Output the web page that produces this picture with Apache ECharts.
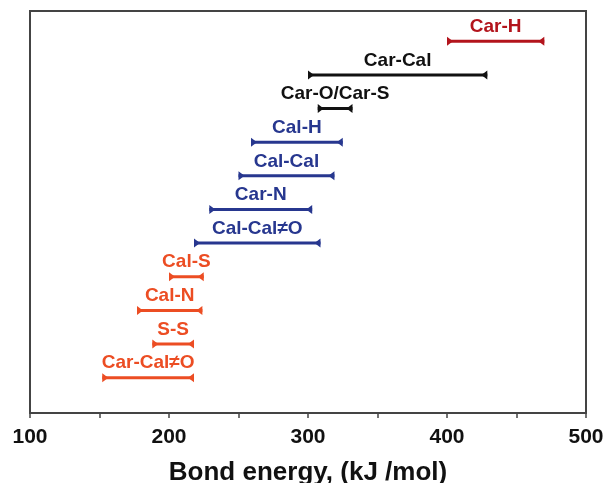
<!DOCTYPE html>
<html>
<head>
<meta charset="utf-8">
<script src="https://cdn.jsdelivr.net/npm/echarts@6/dist/echarts.min.js"></script>
<style>html,body{margin:0;padding:0;background:#fff}#c{width:608px;height:483px}</style>
</head>
<body>
<div id="c"></div>
<script>
const bonds = ['Car-H','Car-Cal','Car-O/Car-S','Cal-H','Cal-Cal','Car-N','Cal-Cal\u2260O','Cal-S','Cal-N','S-S','Car-Cal\u2260O'];
const lowEnergy  = [400, 300, 307, 259, 250, 229, 218, 200, 177, 188, 152];
const highEnergy = [470, 429, 332, 325, 319, 303, 309, 225, 224, 218, 218];
const family = ['aromatic-H','aromatic','aromatic','aliphatic','aliphatic','aliphatic','aliphatic','hetero','hetero','hetero','hetero'];
const xTicks = [100, 200, 300, 400, 500];

const familyColor = {'aromatic-H':'#b3141c','aromatic':'#111111','aliphatic':'#27378f','hetero':'#ec4d23'};

const data = bonds.map((b, i) => [lowEnergy[i], highEnergy[i], i, b, family[i]]);

const chart = echarts.init(document.getElementById('c'));
chart.setOption({
  animation: false,
  grid: {left: 30, right: 22, top: 11, bottom: 70, outerBoundsMode: 'none', containLabel: false,
         show: true, borderColor: '#444', borderWidth: 2, backgroundColor: 'transparent'},
  xAxis: {
    type: 'value', min: 100, max: 500, interval: 50,
    axisLine: {show: true, onZero: false, lineStyle: {color: '#444', width: 2}},
    axisTick: {show: true, length: 5, lineStyle: {color: '#444', width: 1.5}},
    splitLine: {show: false},
    axisLabel: {
      margin: 14, fontSize: 21, fontWeight: 'bold', color: '#111', fontFamily: 'Liberation Sans',
      formatter: v => xTicks.includes(v) ? String(v) : ''
    },
    name: 'Bond energy, (kJ /mol)', nameLocation: 'middle', nameGap: 47,
    nameTextStyle: {fontSize: 26, color: '#111', fontFamily: 'Liberation Sans', fontWeight: 'bold'}
  },
  yAxis: {
    type: 'value', inverse: true, min: -0.9, max: 11.05,
    axisLine: {show: true, onZero: false, lineStyle: {color: '#444', width: 2}},
    axisTick: {show: false}, axisLabel: {show: false}, splitLine: {show: false}
  },
  series: [{
    type: 'custom',
    data: data,
    encode: {x: [0, 1], y: 2},
    renderItem: function (params, api) {
      const lo = api.coord([api.value(0), api.value(2)]);
      const hi = api.coord([api.value(1), api.value(2)]);
      const idx = params.dataIndex;
      const color = familyColor[family[idx]];
      const y = lo[1];
      const h = 4.5, w = 6;
      return {
        type: 'group',
        children: [
          {type: 'line', shape: {x1: lo[0], y1: y, x2: hi[0], y2: y}, style: {stroke: color, lineWidth: 3}},
          {type: 'polygon', shape: {points: [[lo[0], y - h], [lo[0], y + h], [lo[0] + w, y]]}, style: {fill: color}},
          {type: 'polygon', shape: {points: [[hi[0], y - h], [hi[0], y + h], [hi[0] - w, y]]}, style: {fill: color}},
          {type: 'text', style: {
            text: bonds[idx], x: (lo[0] + hi[0]) / 2, y: y - 5,
            align: 'center', verticalAlign: 'bottom',
            fill: color, fontSize: 19, fontWeight: 'bold', fontFamily: 'Liberation Sans'
          }}
        ]
      };
    }
  }]
});
</script>
</body>
</html>
